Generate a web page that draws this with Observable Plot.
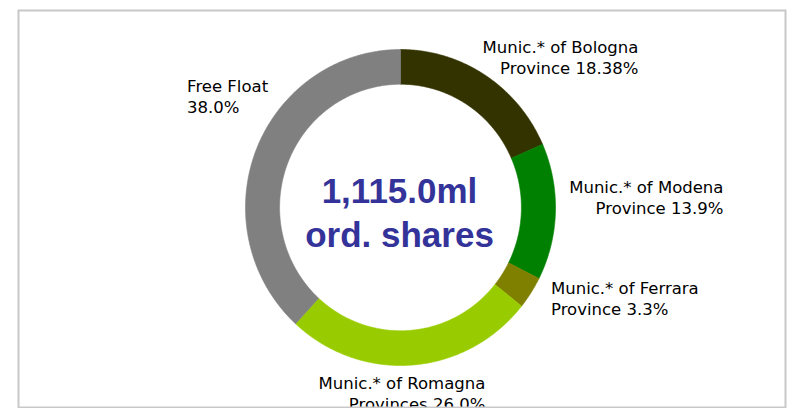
<!DOCTYPE html>
<html>
<head>
<meta charset="utf-8">
<script src="https://cdn.jsdelivr.net/npm/d3@7"></script>
<script src="https://cdn.jsdelivr.net/npm/@observablehq/plot@0.6"></script>
<style>
  html, body { margin: 0; padding: 0; background: #fff; }
  #chart svg { display: block; }
</style>
</head>
<body>
<div id="chart"></div>
<script>
// ---- data ----
const labelLine1 = ["Munic.* of Bologna", "Munic.* of Modena", "Munic.* of Ferrara", "Munic.* of Romagna", "Free Float"];
const labelLine2Prefix = ["Province ", "Province ", "Province ", "Provinces ", ""];
const shares = [18.38, 13.9, 3.3, 26.0, 38.0];
const shareLabels = ["18.38%", "13.9%", "3.3%", "26.0%", "38.0%"];
const colors = ["#333300", "#008000", "#808000", "#99cc00", "#808080"];
const centerLines = ["1,115.0ml", "ord. shares"];

// ---- layout (label placement tweaks, px) ----
const labelLayout = [
  {anchor: "end", dx: 153, dy: -18.5},
  {anchor: "end", dx: 168, dy: -15.5},
  {anchor: "start", dx: 20, dy: 5},
  {anchor: "end", dx: 73, dy: 28},
  {anchor: "start", dx: -69, dy: -54}
];

const W = 788, H = 408;
const cx = 400, cy = 207, rxPx = 155, ryPx = 158;
const innerR = 0.78;

const categories = labelLine1.map((l, i) => (l + " " + labelLine2Prefix[i]).trim());
const slices = categories.map((name, i) => ({name, value: shares[i], i}));

const pie = d3.pie().value(d => d.value).sort(null).startAngle(0).endAngle(2 * Math.PI);
const arcs = pie(slices);

// polygon vertices for each annular sector (unit radius coordinates)
const ringPts = [];
for (const a of arcs) {
  const n = Math.max(4, Math.ceil((a.endAngle - a.startAngle) / (Math.PI / 360)));
  const pts = [];
  for (let k = 0; k <= n; k++) {
    const t = a.startAngle + (a.endAngle - a.startAngle) * k / n;
    pts.push([Math.sin(t), Math.cos(t)]);
  }
  for (let k = n; k >= 0; k--) {
    const t = a.startAngle + (a.endAngle - a.startAngle) * k / n;
    pts.push([innerR * Math.sin(t), innerR * Math.cos(t)]);
  }
  pts.push(pts[0]);
  for (const [x, y] of pts) ringPts.push({name: a.data.name, x, y});
}

const labels = arcs.map((a, i) => {
  const m = (a.startAngle + a.endAngle) / 2;
  return {
    x: Math.sin(m), y: Math.cos(m),
    text: labelLine1[i] + "\n" + labelLine2Prefix[i] + shareLabels[i],
    ...labelLayout[i]
  };
});

const xDomain = [-cx / rxPx, (W - cx) / rxPx];
const yDomain = [-(H - cy) / ryPx, cy / ryPx];

const chart = Plot.plot({
  width: W,
  height: H,
  margin: 0,
  style: {background: "#fff", fontFamily: "'DejaVu Sans', sans-serif"},
  x: {domain: xDomain, axis: null},
  y: {domain: yDomain, axis: null},
  color: {type: "ordinal", domain: categories, range: colors},
  marks: [
    Plot.line(ringPts, {x: "x", y: "y", z: "name", fill: "name", stroke: "name", strokeWidth: 0.6, curve: "linear"}),
    Plot.text([centerLines.join("\n")], {
      x: () => 0, y: () => 0, text: d => d,
      fontFamily: "'Liberation Sans', Arial, sans-serif",
      fontWeight: "bold", fontSize: 35, lineHeight: 1.257,
      fill: "#333399", textAnchor: "middle", dy: 3, dx: -1
    }),
    ...labels.map(l => Plot.text([l], {
      x: "x", y: "y", text: "text",
      textAnchor: l.anchor, dx: l.dx, dy: l.dy,
      fontSize: 16.5, lineHeight: 1.27, fill: "#000"
    })),
    Plot.frame({stroke: "#c8c8c8", strokeWidth: 2, insetLeft: 18, insetTop: 10, insetRight: 3, insetBottom: 1})
  ]
});

document.getElementById("chart").appendChild(chart);
</script>
</body>
</html>
